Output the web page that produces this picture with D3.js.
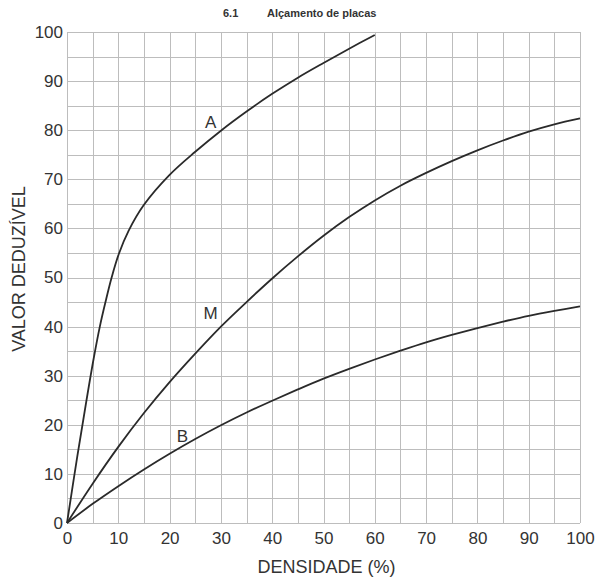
<!DOCTYPE html>
<html><head><meta charset="utf-8">
<script src="https://cdn.jsdelivr.net/npm/d3@7"></script>
<style>body{margin:0;background:#fff}svg{display:block}</style>
</head><body>
<svg id="c" width="599" height="583"></svg>
<script>
const titleNum = "6.1";
const titleText = "Alçamento de placas";
const xTitle = "DENSIDADE (%)";
const yTitle = "VALOR DEDUZÍVEL";
const xTicks = [0,10,20,30,40,50,60,70,80,90,100];
const yTicks = [0,10,20,30,40,50,60,70,80,90,100];
const gridSteps = d3.range(0,101,5);

const densA = [0,2,3.8,5.2,6.4,7.5,8.7,10.1,12,15,20,25,30,35,40,45,50,55,60];
const valA  = [0,13.5,25,33.5,40,45,50,54.8,59.5,64.8,70.9,75.6,79.9,83.8,87.4,90.7,93.7,96.6,99.4];
const densM = [0,5,10,15,20,25,30,35,40,45,50,55,60,65,70,75,80,85,90,95,100];
const valM  = [0,8,15.5,22.4,28.7,34.5,40,45,49.8,54.3,58.5,62.3,65.7,68.7,71.3,73.7,75.9,77.9,79.7,81.2,82.4];
const densB = [0,5,10,15,20,25,30,35,40,45,50,55,60,65,70,75,80,85,90,95,100];
const valB  = [0,3.9,7.5,10.9,14.1,17.1,19.9,22.5,24.9,27.2,29.4,31.4,33.3,35.1,36.8,38.3,39.7,41,42.2,43.2,44.1];
const curveNames = ["A","M","B"];
const labelPos = [[28,80.5],[28,41.5],[22.5,16.5]];

const svg = d3.select("#c");
const font = "Liberation Sans, Arial, sans-serif";
const x = d3.scaleLinear().domain([0,100]).range([67,580]);
const y = d3.scaleLinear().domain([0,100]).range([523,32]);

// grid
const g = svg.append("g").attr("stroke","#bdbdbd").attr("stroke-width",1);
gridSteps.forEach(v=>{
  g.append("line").attr("x1",Math.round(x(v))+0.5).attr("x2",Math.round(x(v))+0.5)
    .attr("y1",y(0)).attr("y2",y(100));
  g.append("line").attr("y1",Math.round(y(v))+0.5).attr("y2",Math.round(y(v))+0.5)
    .attr("x1",x(0)).attr("x2",x(100));
});

const xAxis = svg.append("g").attr("transform",`translate(0,${y(0)})`)
  .call(d3.axisBottom(x).tickValues(xTicks).tickSize(0).tickPadding(5).tickFormat(d3.format("d")));
xAxis.select(".domain").remove();
xAxis.selectAll("text").attr("font-family",font).attr("font-size",17).attr("fill","#333").attr("dy","0.95em");
const yAxis = svg.append("g").attr("transform",`translate(${x(0)},0)`)
  .call(d3.axisLeft(y).tickValues(yTicks).tickSize(0).tickPadding(4).tickFormat(d3.format("d")));
yAxis.select(".domain").remove();
yAxis.selectAll("text").attr("font-family",font).attr("font-size",17).attr("fill","#333");

// curves
const line = d3.line().x(d=>x(d[0])).y(d=>y(d[1])).curve(d3.curveCatmullRom.alpha(0.5));
const series = [d3.zip(densA,valA), d3.zip(densM,valM), d3.zip(densB,valB)];
svg.append("g").selectAll("path").data(series).join("path")
  .attr("d",line).attr("fill","none").attr("stroke","#2a2a2a").attr("stroke-width",1.8);

svg.append("g").selectAll("text").data(curveNames).join("text")
  .attr("x",(d,i)=>x(labelPos[i][0])).attr("y",(d,i)=>y(labelPos[i][1]))
  .attr("text-anchor","middle").attr("font-family",font).attr("font-size",17).attr("fill","#333")
  .text(d=>d);

// titles
svg.append("text").attr("x",x(50)+3).attr("y",573).attr("text-anchor","middle")
  .attr("font-family",font).attr("font-size",18).attr("fill","#333").text(xTitle);
svg.append("text").attr("transform",`translate(25,269) rotate(-90)`).attr("text-anchor","middle")
  .attr("font-family",font).attr("font-size",18).attr("fill","#333").text(yTitle);
svg.append("text").attr("x",223).attr("y",17).attr("font-family",font).attr("font-size",11)
  .attr("font-weight","bold").attr("fill","#333").text(titleNum);
svg.append("text").attr("x",267).attr("y",17).attr("font-family",font).attr("font-size",11)
  .attr("font-weight","bold").attr("fill","#333").text(titleText);
</script>
</body></html>
